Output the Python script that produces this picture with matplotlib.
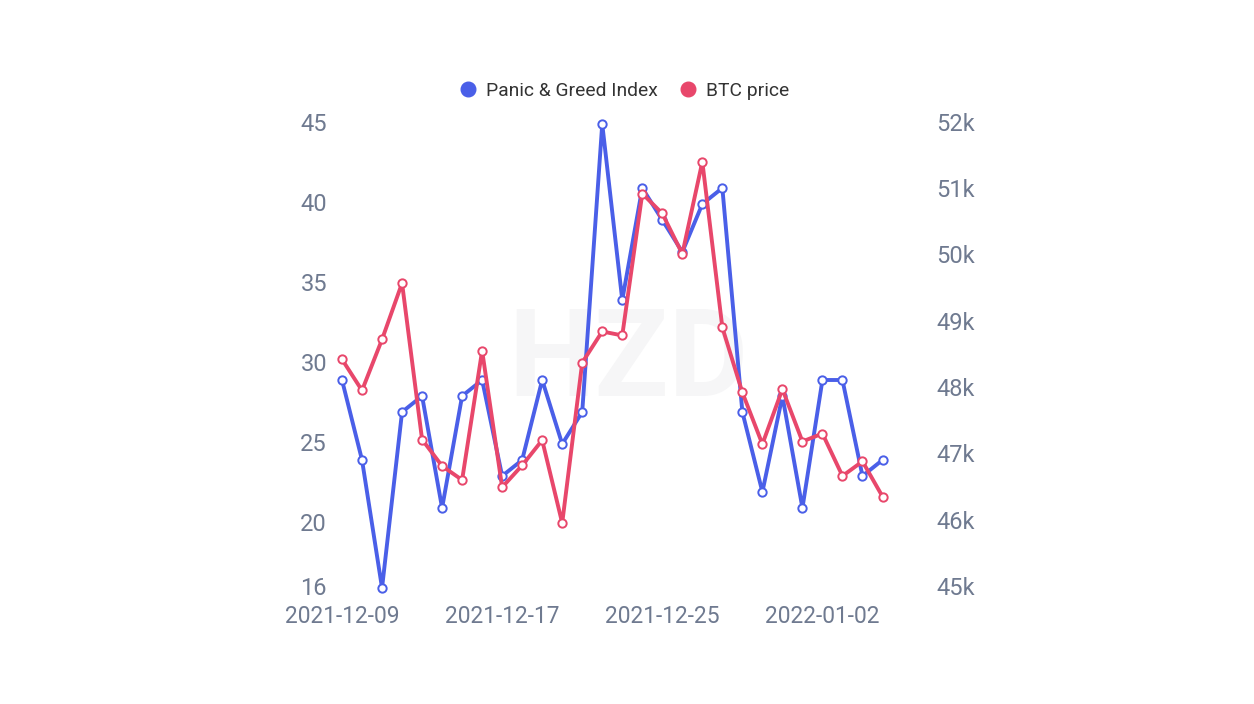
import matplotlib
matplotlib.use("Agg")
import matplotlib.pyplot as plt
from matplotlib.lines import Line2D
from matplotlib.transforms import ScaledTranslation

plt.rcParams['font.family'] = ['Roboto', 'DejaVu Sans']

dates = ['2021-12-09', '2021-12-10', '2021-12-11', '2021-12-12', '2021-12-13', '2021-12-14', '2021-12-15',
         '2021-12-16', '2021-12-17', '2021-12-18', '2021-12-19', '2021-12-20', '2021-12-21', '2021-12-22',
         '2021-12-23', '2021-12-24', '2021-12-25', '2021-12-26', '2021-12-27', '2021-12-28', '2021-12-29',
         '2021-12-30', '2021-12-31', '2022-01-01', '2022-01-02', '2022-01-03', '2022-01-04', '2022-01-05']
panic = [29, 24, 16, 27, 28, 21, 28, 29, 23, 24, 29, 25, 27, 45,
         34, 41, 39, 37, 40, 41, 27, 22, 28, 21, 29, 29, 23, 24]
btc = [48.45, 47.98, 48.75, 49.60, 47.24, 46.84, 46.63, 48.58, 46.52, 46.85, 47.23, 45.98, 48.40, 48.87,
       48.81, 50.95, 50.65, 50.04, 51.43, 48.93, 47.95, 47.17, 48.00, 47.21, 47.33, 46.69, 46.91, 46.38]
left_ticks = [16, 20, 25, 30, 35, 40, 45]
right_ticks = [45, 46, 47, 48, 49, 50, 51, 52]
right_labels = ['45k', '46k', '47k', '48k', '49k', '50k', '51k', '52k']
x_labels = ['2021-12-09', '2021-12-17', '2021-12-25', '2022-01-02']

BLUE = '#4a5fe8'
RED = '#e8476b'
TICK = '#6f7a90'
W, H = 1254, 704

fig = plt.figure(figsize=(W / 100, H / 100), dpi=100, facecolor='white')
ax = fig.add_axes([342 / W, 1 - 588 / H, 540.5 / W, (588 - 124) / H])
ax2 = ax.twinx()
ax.set_zorder(1)
ax2.set_zorder(2)
ax.patch.set_visible(False)
ax2.patch.set_visible(False)

fig.text(628 / W, 1 - 362 / H, 'HZD', fontsize=88, fontweight='bold', color='#f6f6f7',
         ha='center', va='center', zorder=0)

common = dict(lw=2.8, marker='o', ms=6, mfc='white', mew=1.4, clip_on=False, solid_joinstyle='round')
xs = list(range(len(dates)))
ax.plot(xs, panic, color=BLUE, **common)
ax2.plot(xs, btc, color=RED, **common)

ax.set_xlim(0, len(dates) - 1)
ax.set_ylim(16, 45)
ax2.set_ylim(45, 52)
ax.set_yticks(left_ticks)
ax2.set_yticks(right_ticks)
ax2.set_yticklabels(right_labels)
ax.set_xticks([dates.index(d) for d in x_labels])
ax.set_xticklabels(x_labels)

for a in (ax, ax2):
    for s in a.spines.values():
        s.set_visible(False)
ax.tick_params(axis='y', length=0, pad=10.8, labelsize=17, labelcolor=TICK)
ax.tick_params(axis='x', length=0, pad=12, labelsize=16.4, labelcolor=TICK)
ax2.tick_params(axis='y', length=0, pad=38.5, labelsize=17, labelcolor=TICK)

shift = ScaledTranslation(0, 1.5 / 72, fig.dpi_scale_trans)
for lab in ax.get_yticklabels() + ax2.get_yticklabels():
    lab.set_transform(lab.get_transform() + shift)

handles = [Line2D([], [], ls='', marker='o', ms=10.5, color=BLUE),
           Line2D([], [], ls='', marker='o', ms=10.5, color=RED)]
fig.legend(handles, ['Panic & Greed Index', 'BTC price'], loc='center', ncol=2,
           bbox_to_anchor=(621 / W, 1 - 91 / H), frameon=False, fontsize=13.9,
           labelcolor='#333333', handletextpad=0.15, columnspacing=0.75, handlelength=1.6)

fig.savefig('out.png', dpi=100)
